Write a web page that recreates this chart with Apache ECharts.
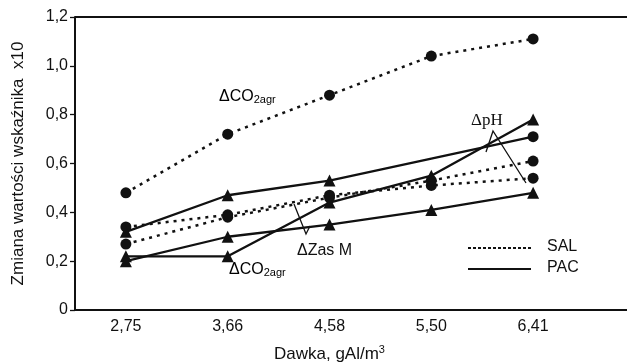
<!DOCTYPE html>
<html>
<head>
<meta charset="utf-8">
<script src="https://cdn.jsdelivr.net/npm/echarts@6/dist/echarts.min.js"></script>
<style>
  html, body { margin: 0; background: #fff; }
  #chart { width: 627px; height: 363px; }
</style>
</head>
<body>
<div id="chart"></div>
<script>
// dawka koagulantu (os X) i podpisy osi Y
var dawka = ['2,75', '3,66', '4,58', '5,50', '6,41'];
var yTicks = ['0', '0,2', '0,4', '0,6', '0,8', '1,0', '1,2'];

// SAL - linie kropkowane
var salCO2 = [0.48, 0.72, 0.88, 1.04, 1.11];
var salPH = [0.34, 0.39, 0.47, 0.51, 0.54];
var salZas = [0.27, 0.38, 0.46, 0.53, 0.61];

// PAC - linie ciagle
var pacCO2 = [0.22, 0.22, 0.44, 0.55, 0.78];
var pacPH = [0.32, 0.47, 0.53, 0.62, 0.71];
var pacZas = [0.20, 0.30, 0.35, 0.41, 0.48];

var font = 'Liberation Sans, Arial, sans-serif';
var ink = '#111';

var myChart = echarts.init(document.getElementById('chart'));

function salLine(name, values) {
    return {
        name: name,
        type: 'line',
        data: values,
        symbol: 'circle',
        symbolSize: 11,
        itemStyle: { color: ink },
        lineStyle: { color: ink, width: 2.5, type: [3, 5] },
        z: 3
    };
}

function pacLine(name, values) {
    return {
        name: name,
        type: 'line',
        data: values,
        symbol: 'triangle',
        symbolSize: 12,
        itemStyle: { color: ink },
        lineStyle: { color: ink, width: 2.3 },
        z: 3
    };
}

// pH dla PAC: na 5,50 brak znacznika, na 6,41 kolko
var pacPHSeries = pacLine('PAC pH', pacPH.map(function (v, i) {
    if (i === 3) return { value: v, symbol: 'none' };
    if (i === 4) return { value: v, symbol: 'circle', symbolSize: 11 };
    return v;
}));

var sub = { fontSize: 11, fontFamily: font, color: ink, padding: [6, 0, 0, 0] };
var big = { fontSize: 16, fontFamily: font, color: ink };

var option = {
    animation: false,
    grid: { left: 75, right: 43, top: 17, bottom: 53, containLabel: false, outerBoundsMode: 'none' },
    xAxis: [{
        type: 'category',
        data: dawka,
        boundaryGap: true,
        name: 'Dawka, gAl/m{sup|3}',
        nameLocation: 'middle',
        nameGap: 34,
        nameTextStyle: {
            fontSize: 17, fontFamily: font, color: ink,
            rich: { sup: { fontSize: 11, fontFamily: font, color: ink, padding: [0, 0, 9, 0] } }
        },
        axisLine: { lineStyle: { color: ink, width: 2 } },
        axisTick: { alignWithLabel: true, length: 4, lineStyle: { color: ink, width: 1.3 } },
        axisLabel: { fontSize: 16, fontFamily: font, color: ink, margin: 9 },
        splitLine: { show: false }
    }, {
        type: 'category',
        data: dawka,
        gridIndex: 0,
        position: 'bottom',
        axisLine: { show: false },
        axisTick: { alignWithLabel: true, inside: true, length: 4, lineStyle: { color: ink, width: 1.3 } },
        axisLabel: { show: false }
    }, {
        type: 'category',
        data: dawka,
        gridIndex: 0,
        position: 'bottom',
        axisLine: { show: false },
        axisTick: { alignWithLabel: false, length: 4, lineStyle: { color: ink, width: 1.3 } },
        axisLabel: { show: false }
    }],
    yAxis: {
        type: 'value',
        min: 0,
        max: 1.2,
        interval: 0.2,
        name: 'Zmiana wartości wskaźnika  x10',
        nameLocation: 'middle',
        nameGap: 48,
        nameTextStyle: { fontSize: 17, fontFamily: font, color: ink },
        axisLine: { show: true, lineStyle: { color: ink, width: 2 } },
        axisTick: { show: true, length: 5, lineStyle: { color: ink, width: 1.3 } },
        axisLabel: {
            fontSize: 16, fontFamily: font, color: ink, margin: 7,
            formatter: function (v) { return yTicks[Math.round(v / 0.2)]; }
        },
        splitLine: { show: false }
    },
    series: [
        salLine('SAL CO2', salCO2),
        salLine('SAL pH', salPH),
        salLine('SAL Zas', salZas),
        pacLine('PAC CO2', pacCO2),
        pacPHSeries,
        pacLine('PAC Zas', pacZas)
    ],
    graphic: [
        // gorna ramka i przedluzenie osi X
        { type: 'line', shape: { x1: 75, y1: 17, x2: 627, y2: 17 }, style: { stroke: ink, lineWidth: 2 } },
        { type: 'line', shape: { x1: 584, y1: 310, x2: 627, y2: 310 }, style: { stroke: ink, lineWidth: 2 } },

        // opisy serii
        { type: 'text', left: 219, top: 89, style: { text: '{a|ΔCO}{s|2agr}', rich: { a: big, s: sub } } },
        { type: 'text', left: 229, top: 262, style: { text: '{a|ΔCO}{s|2agr}', rich: { a: big, s: sub } } },
        { type: 'text', left: 297, top: 243, style: { text: 'ΔZas M', font: '16px ' + font, fill: ink } },
        { type: 'text', left: 471, top: 112, style: { text: 'ΔpH', font: '17px Liberation Serif, serif', fill: ink } },

        // linie wskazujace
        { type: 'polyline', shape: { points: [[486, 152], [493, 131], [526, 183]] }, style: { stroke: ink, lineWidth: 1.3, fill: null } },
        { type: 'polyline', shape: { points: [[294, 204], [306, 234], [310, 226]] }, style: { stroke: ink, lineWidth: 1.3, fill: null } },

        // legenda
        { type: 'line', shape: { x1: 468, y1: 248, x2: 531, y2: 248 }, style: { stroke: ink, lineWidth: 2, lineDash: [3, 2] } },
        { type: 'text', left: 547, top: 239, style: { text: 'SAL', font: '16px ' + font, fill: ink } },
        { type: 'line', shape: { x1: 468, y1: 269, x2: 531, y2: 269 }, style: { stroke: ink, lineWidth: 2.2 } },
        { type: 'text', left: 547, top: 260, style: { text: 'PAC', font: '16px ' + font, fill: ink } }
    ]
};

myChart.setOption(option);
</script>
</body>
</html>
